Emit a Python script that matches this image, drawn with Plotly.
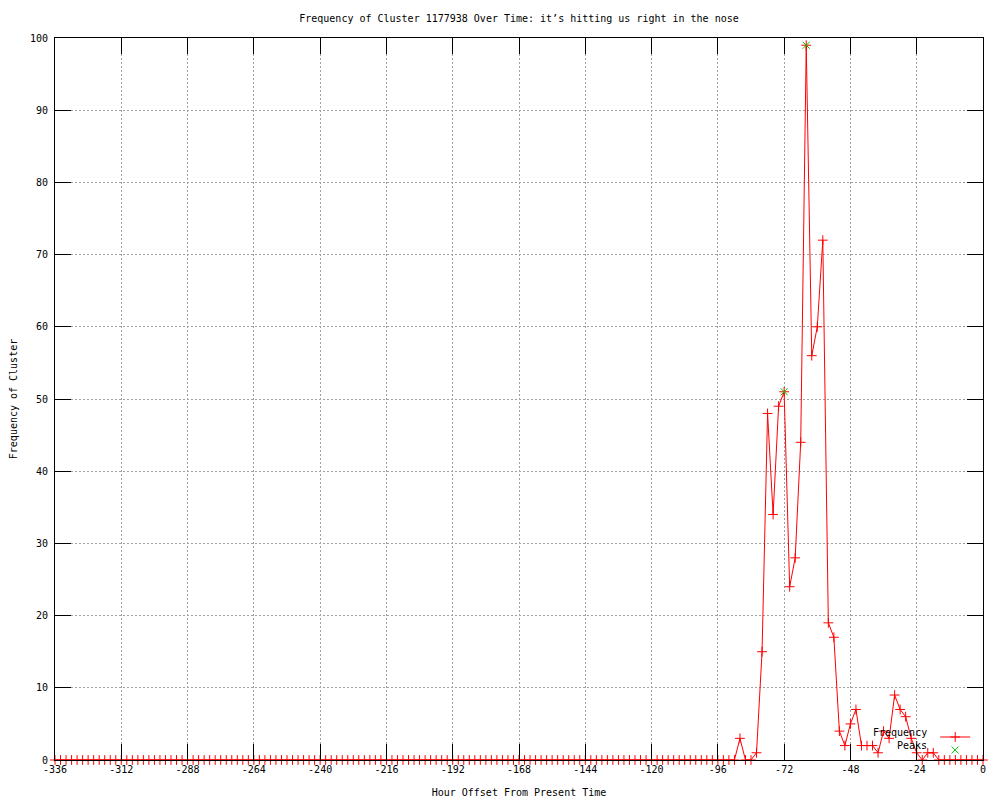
import plotly.graph_objects as go

# ---- data ----
hours = list(range(-336, 1, 2))  # hour offsets, every 2 hours

frequency = [
    # -336 .. -92
    0, 0, 0, 0, 0, 0, 0, 0, 0, 0, 0, 0, 0, 0, 0, 0, 0, 0, 0, 0,
    0, 0, 0, 0, 0, 0, 0, 0, 0, 0, 0, 0, 0, 0, 0, 0, 0, 0, 0, 0,
    0, 0, 0, 0, 0, 0, 0, 0, 0, 0, 0, 0, 0, 0, 0, 0, 0, 0, 0, 0,
    0, 0, 0, 0, 0, 0, 0, 0, 0, 0, 0, 0, 0, 0, 0, 0, 0, 0, 0, 0,
    0, 0, 0, 0, 0, 0, 0, 0, 0, 0, 0, 0, 0, 0, 0, 0, 0, 0, 0, 0,
    0, 0, 0, 0, 0, 0, 0, 0, 0, 0, 0, 0, 0, 0, 0, 0, 0, 0, 0, 0,
    0, 0, 0,
    # -90 .. 0
    0, 3, 0, 0, 1, 15, 48, 34, 49, 51,
    24, 28, 44, 99, 56, 60, 72, 19, 17, 4,
    2, 5, 7, 2, 2, 2, 1, 4, 3, 9,
    7, 6, 3, 1, 0, 1, 1, 0, 0, 0,
    0, 0, 0, 0, 0, 0,
]

peak_hours = [-72, -64]
peak_values = [51, 99]

x_ticks = [-336, -312, -288, -264, -240, -216, -192, -168, -144, -120, -96, -72, -48, -24, 0]
y_ticks = [0, 10, 20, 30, 40, 50, 60, 70, 80, 90, 100]

FONT = "DejaVu Sans Mono"
RED = "#ff0000"
GREEN = "#00c000"

fig = go.Figure()
fig.add_trace(go.Scatter(
    x=hours, y=frequency, mode="lines+markers", name="",
    line=dict(color=RED, width=1),
    marker=dict(symbol="cross-thin", size=7, color=RED, line=dict(color=RED, width=1)),
    cliponaxis=False, legend="legend",
))
fig.add_trace(go.Scatter(
    x=peak_hours, y=peak_values, mode="markers", name="",
    marker=dict(symbol="x-thin", size=7, color=GREEN, line=dict(color=GREEN, width=1)),
    cliponaxis=False, legend="legend2",
))

axis_common = dict(
    showline=True, linecolor="black", linewidth=1, mirror="allticks",
    ticks="inside", ticklen=16, tickcolor="black", tickwidth=1,
    showgrid=True, gridcolor="#a0a0a0", gridwidth=1, griddash="2px,2px",
    zeroline=False, automargin=False,
    tickfont=dict(family=FONT, size=10, color="black"),
)

fig.update_xaxes(
    range=[-336, 0], tickmode="array", tickvals=x_ticks,
    ticktext=[str(v) for v in x_ticks],
    title=dict(text="Hour Offset From Present Time", font=dict(family=FONT, size=10, color="black"), standoff=14),
    **axis_common,
)
fig.update_yaxes(
    range=[0, 100], tickmode="array", tickvals=y_ticks,
    ticktext=[str(v) for v in y_ticks], ticklabelstandoff=4,
    title=dict(text="Frequency of Cluster", font=dict(family=FONT, size=10, color="black"), standoff=10),
    **axis_common,
)

legend_common = dict(
    xanchor="right", yanchor="middle", bgcolor="rgba(0,0,0,0)",
    borderwidth=0, font=dict(family=FONT, size=10, color="black"),
    tracegroupgap=0, itemwidth=30,
)

fig.update_layout(
    width=992, height=792,
    paper_bgcolor="white", plot_bgcolor="white",
    margin=dict(l=47, r=17, t=30, b=40, autoexpand=False),
    title=dict(
        text="Frequency of Cluster 1177938 Over Time: it\u2019s hitting us right in the nose",
        font=dict(family=FONT, size=10, color="black"),
        x=0.5, xanchor="center", xref="paper", y=1 - 10 / 792, yanchor="middle", yref="container",
        automargin=False,
    ),
    showlegend=True,
    legend=dict(x=(981 - 55) / 928, y=(760 - 737) / 722,
                title=dict(text="Frequency", side="left", font=dict(family=FONT, size=10, color="black")),
                **legend_common),
    legend2=dict(x=(981 - 55) / 928, y=(760 - 750) / 722,
                 title=dict(text="Peaks", side="left", font=dict(family=FONT, size=10, color="black")),
                 **legend_common),
)

fig.write_html("out.html")
